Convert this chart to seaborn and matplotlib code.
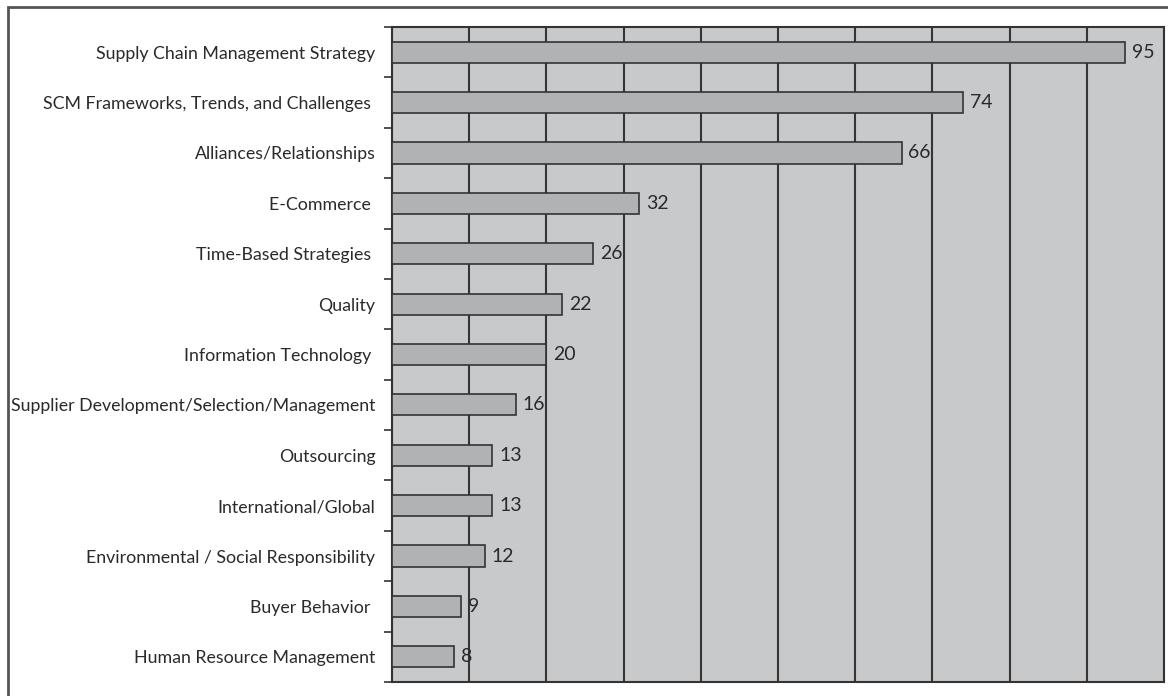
import matplotlib
matplotlib.use("Agg")
import matplotlib.pyplot as plt
import seaborn as sns
import pandas as pd
from matplotlib.patches import Rectangle

categories = [
    "Supply Chain Management Strategy",
    "SCM Frameworks, Trends, and Challenges ",
    "Alliances/Relationships",
    "E-Commerce ",
    "Time-Based Strategies ",
    "Quality",
    "Information Technology ",
    "Supplier Development/Selection/Management",
    "Outsourcing",
    "International/Global",
    "Environmental / Social Responsibility",
    "Buyer Behavior ",
    "Human Resource Management",
]
values = [95, 74, 66, 32, 26, 22, 20, 16, 13, 13, 12, 9, 8]

df = pd.DataFrame({"topic": categories, "count": values})

sns.set_theme(style="white")
plt.rcParams["font.family"] = ["Lato", "DejaVu Sans"]

fig = plt.figure(figsize=(11.68, 6.96), dpi=100)
ax = fig.add_axes([392/1168, 1-682/696, (1164-392)/1168, (682-27)/696])

ax.set_facecolor("#c8c9cb")
sns.barplot(data=df, y="topic", x="count", orient="h", color="#b1b2b4",
            saturation=1, edgecolor="#333333", linewidth=1.2, width=0.42, ax=ax,
            zorder=3)

ax.set_xlim(0, 100)
ax.set_ylim(len(categories) - 0.5, -0.5)
ax.set_xticks(range(0, 101, 10))
ax.xaxis.grid(True, color="#353535", linewidth=1.5, zorder=1)
ax.set_axisbelow(True)
ax.tick_params(axis="x", length=0, labelbottom=False)

# y ticks at category boundaries, labels at centers
ax.set_yticks([i - 0.5 for i in range(len(categories) + 1)], minor=False)
ax.set_yticklabels([])
ax.set_yticks(range(len(categories)), minor=True)
ax.set_yticklabels(categories, minor=True, fontsize=12.8, color="#2a2a2a")
ax.tick_params(axis="y", which="major", length=6, width=1.2, color="#333333", left=True)
ax.tick_params(axis="y", which="minor", length=0, pad=12, left=True)
ax.set_xlabel("")
ax.set_ylabel("")

for s in ax.spines.values():
    s.set_color("#333333")
    s.set_linewidth(1.5)

ax.bar_label(ax.containers[0], labels=[str(v) for v in values], padding=5,
             fontsize=14, color="#2a2a2a")

# outer frame
fig.patches.append(Rectangle((8/1168, -0.05), 1.2, 1 - 7/696 + 0.05,
                             transform=fig.transFigure, fill=False,
                             edgecolor="#555555", linewidth=2, zorder=0))

fig.savefig("out.png", dpi=100)
